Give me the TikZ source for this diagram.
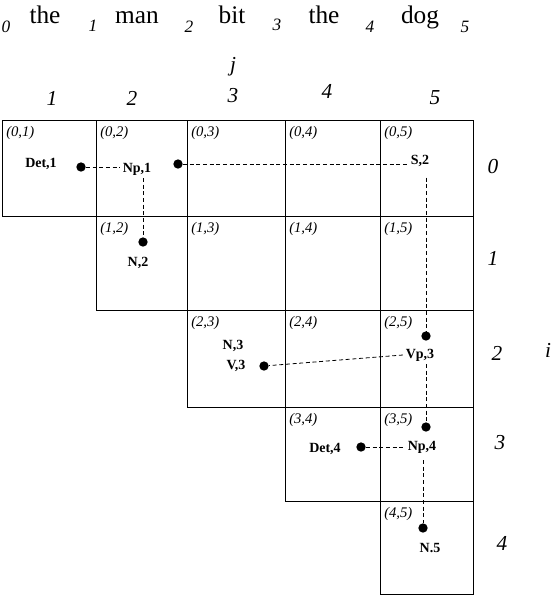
\documentclass[tikz,border=0pt]{standalone}
\usepackage{fontspec}
\setmainfont{Liberation Serif}
\usetikzlibrary{positioning,calc}
\tikzset{
	wordtxt/.style={font=\fontsize{19}{21}\selectfont, inner sep=0pt, anchor=base},
	posidx/.style={font=\fontsize{13}{15}\selectfont\itshape, inner sep=0pt, anchor=base},
	axisidx/.style={font=\fontsize{16}{18}\selectfont\itshape, inner sep=0pt},
	cellidx/.style={font=\fontsize{11}{13}\selectfont\itshape, inner sep=0pt, anchor=west},
	catbox/.style={font=\fontsize{10.5}{12}\selectfont\bfseries, inner sep=2pt},
	ptrdot/.style={circle, fill=black, inner sep=0pt, minimum size=7pt},
	ptrarr/.style={dashed, dash pattern=on 3pt off 2pt, line width=0.6pt},
	cellline/.style={line width=0.75pt}
}
\begin{document}
\begin{tikzpicture}[x=0.75pt, y=-0.75pt]
	\useasboundingbox (0,0) rectangle (554,600);
	% sentence with positions
	\node[posidx] (p0) at (6,32) {0};
	\node[wordtxt] (w1) at (45,23) {the};
	\node[posidx] (p1) at (93,31) {1};
	\node[wordtxt] (w2) at (137,23) {man};
	\node[posidx] (p2) at (189,32) {2};
	\node[wordtxt] (w3) at (232,23) {bit};
	\node[posidx] (p3) at (277,30) {3};
	\node[wordtxt] (w4) at (324,23) {the};
	\node[posidx] (p4) at (370,32) {4};
	\node[wordtxt] (w5) at (420,23) {dog};
	\node[posidx] (p5) at (465,32) {5};
	% column and row indices
	\node[axisidx] (jlbl) at (233,67) {j};
	\node[axisidx] (col1) at (52,98) {1};
	\node[axisidx] (col2) at (132,98) {2};
	\node[axisidx] (col3) at (233,96) {3};
	\node[axisidx] (col4) at (327,91) {4};
	\node[axisidx] (col5) at (435,98) {5};
	\node[axisidx] (row0) at (493,167) {0};
	\node[axisidx] (row1) at (493,258) {1};
	\node[axisidx] (row2) at (497,353) {2};
	\node[axisidx] (row3) at (500,443) {3};
	\node[axisidx] (row4) at (502,543) {4};
	\node[axisidx] (ilbl) at (548,350) {i};
	% chart cells
	\foreach \i/\top/\bot in {0/120/216, 1/216/310, 2/310/407, 3/407/501, 4/501/594}
		\foreach \j/\lft/\rgt in {1/2/96, 2/96/187, 3/187/285, 4/285/380, 5/380/473}{
			\ifnum\j>\i
				\draw[cellline] (\lft,\top) rectangle (\rgt,\bot);
				\node[cellidx] (c\i\j) at (\lft+4,\top+13) {(\i,\j)};
			\fi
		}
	% entries
	\node[catbox] (det1) at (41,164) {Det,1};
	\node[catbox] (np1) at (137,169) {Np,1};
	\node[catbox] (s2) at (420,161) {S,2};
	\node[catbox] (n2) at (138,263) {N,2};
	\node[catbox] (n3) at (233,346) {N,3};
	\node[catbox] (v3) at (236,366) {V,3};
	\node[catbox] (vp3) at (420,355) {Vp,3};
	\node[catbox] (det4) at (325,449) {Det,4};
	\node[catbox] (np4) at (422,447) {Np,4};
	\node[catbox] (n5) at (430,548) {N.5};
	% back pointers
	\node[ptrdot] (d1) at (81,167) {};
	\node[ptrdot] (d2) at (178,164) {};
	\node[ptrdot] (d3) at (143,242) {};
	\node[ptrdot] (d4) at (426,336) {};
	\node[ptrdot] (d5) at (264,366) {};
	\node[ptrdot] (d6) at (426,427) {};
	\node[ptrdot] (d7) at (361,447) {};
	\node[ptrdot] (d8) at (423,528) {};
	\draw[ptrarr] (d1) -- (d1 -| np1.west);
	\draw[ptrarr] (d3 |- np1.south) -- (d3);
	\draw[ptrarr] (d2) -- (d2 -| s2.west);
	\draw[ptrarr] ([yshift=-6pt]d4 |- s2.south) -- (d4);
	\draw[ptrarr] (vp3.west) -- (d5);
	\draw[ptrarr] (d6 |- vp3.south) -- (d6);
	\draw[ptrarr] (d7) -- (d7 -| np4.west);
	\draw[ptrarr] ([yshift=-3pt]d8 |- np4.south) -- (d8);
\end{tikzpicture}
\end{document}
